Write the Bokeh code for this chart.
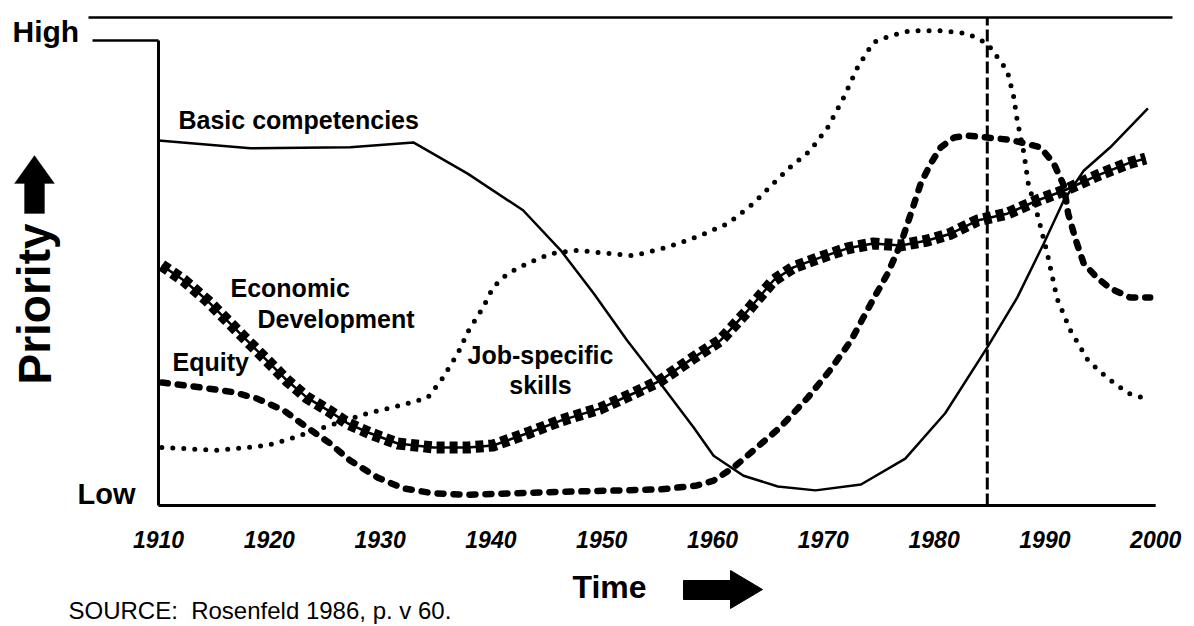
from bokeh.plotting import figure
from bokeh.layouts import column
from bokeh.models import Range1d, FixedTicker, Label, PolyAnnotation
from bokeh.core.properties import value
from bokeh.embed import file_html
from bokeh.resources import INLINE

# ---------------- data ----------------
TICK_YEARS = [1910, 1920, 1930, 1940, 1950, 1960, 1970, 1980, 1990, 2000]

BASIC_YEARS = [1910.0, 1918.3, 1927.3, 1933.0, 1937.9, 1942.9, 1946.3, 1949.3, 1952.3,
               1955.3, 1958.3, 1960.1, 1962.8, 1965.9, 1969.3, 1973.4, 1977.4, 1981.0,
               1984.8, 1987.5, 1989.9, 1991.7, 1993.5, 1995.9, 1999.3]
BASIC = [74.8, 73.2, 73.4, 74.4, 68.0, 60.5, 52.3, 43.4, 33.8, 25.0, 16.0, 10.2, 6.1,
         3.9, 3.1, 4.3, 9.6, 18.9, 32.4, 42.6, 53.7, 62.5, 68.6, 73.4, 81.4]

ECON_YEARS = [1910.3, 1912.3, 1914.4, 1916.2, 1918.0, 1919.8, 1921.6, 1923.4, 1925.3,
              1927.1, 1929.1, 1931.6, 1934.8, 1937.9, 1940.2, 1943.3, 1946.3, 1949.9,
              1952.9, 1955.3, 1958.3, 1960.7, 1963.2, 1965.5, 1967.3, 1969.7, 1972.2,
              1974.5, 1977.0, 1979.4, 1981.5, 1983.9, 1986.6, 1989.3, 1991.7, 1994.7,
              1997.5, 1999.1]
ECON = [49.2, 46.1, 42.0, 37.9, 33.8, 29.7, 25.6, 22.1, 19.5, 16.8, 14.8, 12.7, 11.9,
        11.9, 12.3, 14.8, 17.4, 19.9, 23.0, 25.6, 30.3, 33.8, 40.0, 46.1, 48.8, 50.8,
        52.7, 53.7, 53.3, 54.3, 55.7, 58.4, 59.8, 62.5, 64.5, 67.6, 70.1, 71.1]

EQUITY_YEARS = [1910.3, 1913.8, 1916.8, 1918.9, 1921.3, 1923.4, 1925.5, 1927.3, 1929.8,
                1932.1, 1934.8, 1937.9, 1946.3, 1955.3, 1958.6, 1960.1, 1961.9, 1963.7,
                1966.1, 1968.6, 1970.6, 1972.5, 1974.3, 1975.8, 1977.0, 1977.9, 1978.8,
                1979.7, 1980.6, 1981.8, 1983.0, 1984.8, 1986.6, 1987.5, 1989.6, 1990.8,
                1991.7, 1992.1, 1992.8, 1993.5, 1994.7, 1995.9, 1997.7, 1999.5]
EQUITY = [25.2, 24.2, 23.2, 21.9, 19.5, 16.0, 12.7, 9.2, 5.7, 3.5, 2.5, 2.2, 2.8, 3.3,
          4.1, 5.1, 7.8, 11.3, 16.0, 22.1, 27.7, 33.8, 41.4, 47.5, 53.7, 59.8, 66.0,
          70.1, 73.4, 75.4, 75.8, 75.4, 75.0, 74.6, 73.4, 70.1, 65.6, 59.8, 54.3, 49.6,
          46.7, 44.5, 42.6, 42.6]

JOB_YEARS = [1910.3, 1915.3, 1919.8, 1921.9, 1924.9, 1928.9, 1931.8, 1934.3, 1935.5,
             1937.0, 1938.0, 1939.3, 1940.2, 1941.5, 1943.3, 1945.4, 1947.8, 1950.8,
             1952.9, 1955.9, 1958.9, 1961.4, 1963.7, 1965.5, 1967.0, 1968.8, 1970.4,
             1971.8, 1973.1, 1974.5, 1976.1, 1977.9, 1980.6, 1983.0, 1984.8, 1986.6,
             1987.2, 1987.5, 1988.1, 1988.5, 1989.4, 1990.2, 1991.1, 1992.3, 1993.9,
             1995.6, 1997.5, 1999.4]
JOB = [11.9, 11.3, 12.3, 13.7, 16.0, 18.9, 20.5, 22.1, 25.6, 31.1, 35.9, 40.6, 44.7,
       47.5, 49.6, 51.6, 52.3, 51.6, 51.2, 52.9, 55.3, 57.8, 61.9, 66.0, 69.3, 72.7,
       77.5, 83.4, 89.8, 94.9, 96.3, 97.3, 97.3, 96.7, 94.7, 89.1, 83.6, 78.9, 72.3,
       66.0, 59.0, 51.8, 42.4, 35.9, 29.7, 26.2, 23.0, 21.7]

MARK_YEAR = 1984.8          # vertical dashed reference line
HIGH_LEVEL = 95.3           # "High" level on the priority scale
TOP_LEVEL = 100.0

# ---------------- canvas calibration (layout only) ----------------
PX_PER_YEAR = 11.08
PX_PER_UNIT = 4.88
X0_PX = 158.0   # canvas x of 1910
Y0_PX = 505.0   # canvas y of priority 0
W = 1194
H_MAIN = 565
H_FOOT = 61
FRAME_BOTTOM = 508


def dx(px):
    return 1910 + (px - X0_PX) / PX_PER_YEAR


def dy(py):
    return (Y0_PX - py) / PX_PER_UNIT


FONT = "Liberation Sans"

p = figure(width=W, height=H_MAIN,
           x_range=Range1d(dx(0), dx(W)), y_range=Range1d(dy(FRAME_BOTTOM), dy(0)),
           output_backend="svg", toolbar_location=None,
           x_axis_location="below", y_axis_location=None,
           min_border_left=0, min_border_right=0, min_border_top=0,
           min_border_bottom=H_MAIN - FRAME_BOTTOM)
p.xgrid.visible = False
p.ygrid.visible = False
p.outline_line_color = None
p.background_fill_color = "white"
p.border_fill_color = "white"

ax = p.xaxis[0]
ax.ticker = FixedTicker(ticks=TICK_YEARS)
ax.axis_line_color = None
ax.major_tick_line_color = None
ax.minor_tick_line_color = None
ax.major_label_text_font = FONT
ax.major_label_text_font_size = "23px"
ax.major_label_text_font_style = "bold italic"
ax.major_label_text_color = "black"
ax.major_label_standoff = 16

# frame lines
p.segment(x0=[dx(88)], y0=[TOP_LEVEL], x1=[dx(1172)], y1=[TOP_LEVEL], line_color="black", line_width=2.5)
p.segment(x0=[dx(92)], y0=[HIGH_LEVEL], x1=[TICK_YEARS[0]], y1=[HIGH_LEVEL], line_color="black", line_width=2.5)
p.segment(x0=[TICK_YEARS[0]], y0=[0], x1=[TICK_YEARS[0]], y1=[HIGH_LEVEL], line_color="black", line_width=3)
p.segment(x0=[TICK_YEARS[0]], y0=[0], x1=[TICK_YEARS[-1]], y1=[0], line_color="black", line_width=3)
p.segment(x0=[MARK_YEAR], y0=[0], x1=[MARK_YEAR], y1=[TOP_LEVEL], line_color="black",
          line_width=3, line_dash="12 4")

# series
p.line(JOB_YEARS, JOB, line_color="black", line_width=5, line_dash="0 11", line_cap="round")
p.line(EQUITY_YEARS, EQUITY, line_color="black", line_width=6.5, line_dash="6 10", line_cap="round")
p.line(ECON_YEARS, ECON, line_color="black", line_width=2.5)
p.line(ECON_YEARS, ECON, line_color="black", line_width=12, line_dash="8 5")
p.line(BASIC_YEARS, BASIC, line_color="black", line_width=2.5)


def lab(text, px, py, size, style="bold", align="left", angle=0.0):
    p.add_layout(Label(x=dx(px), y=dy(py), text=text, text_font=FONT, text_font_size=size,
                       text_font_style=style, text_align=align, text_baseline="middle",
                       text_color="black", angle=angle))


lab("Basic competencies", 178, 119, "25px")
lab("Economic", 230, 287, "25px")
lab("Development", 257, 318, "25px")
lab("Equity", 172, 361, "25px")
lab("Job-specific", 540, 354, "25px", align="center")
lab("skills", 540, 384, "25px", align="center")
lab("High", 12, 31, "30px")
lab("Low", 77, 493, "29px")
lab("Priority", 34, 384, "46px", angle=1.5708)

up = [(34, 155), (54, 183), (44, 183), (44, 213), (24, 213), (24, 183), (14, 183)]
p.add_layout(PolyAnnotation(xs=[dx(a) for a, b in up], ys=[dy(b) for a, b in up],
                            xs_units="data", ys_units="data",
                            fill_color="black", fill_alpha=1.0, line_color="black", line_width=1))

# ---------------- footer strip (canvas pixel coordinates) ----------------
f = figure(width=W, height=H_FOOT, x_range=Range1d(0, W), y_range=Range1d(H_MAIN + H_FOOT, H_MAIN),
           output_backend="svg", toolbar_location=None,
           x_axis_location=None, y_axis_location=None,
           min_border_left=0, min_border_right=0, min_border_top=0, min_border_bottom=0)
f.xgrid.visible = False
f.ygrid.visible = False
f.outline_line_color = None
f.background_fill_color = "white"
f.border_fill_color = "white"

f.text(x=[572], y=[586], text=["Time"], text_font=value(FONT), text_font_size=value("32px"),
       text_font_style="bold", text_color="black", text_baseline="middle")
f.text(x=[68], y=[610], text=["SOURCE:\u00a0 Rosenfeld 1986, p. v 60."], text_font=value(FONT),
       text_font_size=value("24px"), text_font_style="normal", text_color="black",
       text_baseline="middle")
right = [(683, 580), (730, 580), (730, 570), (762, 589), (730, 608), (730, 599), (683, 599)]
f.patch([a for a, b in right], [b for a, b in right], fill_color="black", line_color="black")

layout = column(p, f, spacing=0)
open("out.html", "w").write(file_html(layout, INLINE))
